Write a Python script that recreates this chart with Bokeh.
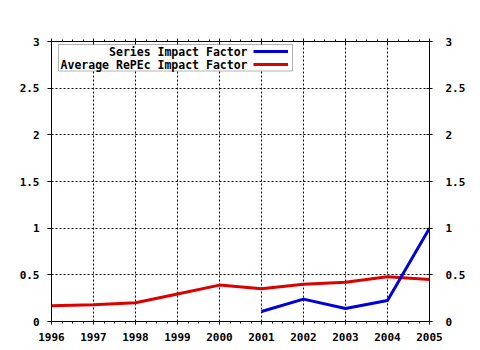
from bokeh.plotting import figure
from bokeh.models import (LinearAxis, FixedTicker, Range1d, BoxAnnotation, Label,
                          CustomLabelingPolicy)
from bokeh.embed import file_html
from bokeh.resources import INLINE

# ---- data ----
years = [1996, 1997, 1998, 1999, 2000, 2001, 2002, 2003, 2004, 2005]
average_repec_if = [0.17, 0.18, 0.20, 0.295, 0.39, 0.35, 0.40, 0.42, 0.48, 0.45]
series_years = [2001, 2002, 2003, 2004, 2005]
series_if = [0.107, 0.24, 0.14, 0.225, 1.0]
y_ticks = [0, 0.5, 1, 1.5, 2, 2.5, 3]
y_tick_labels = ["0", "0.5", "1", "1.5", "2", "2.5", "3"]
x_tick_labels = [str(y) for y in years]
series_names = ["Series Impact Factor", "Average RePEc Impact Factor"]
series_colors = ["#0000dd", "#dd0000"]

# ---- layout ----
W, H = 480, 350
BL, BR, BT, BB = 51, 51, 41, 29
FW, FH = W - BL - BR, H - BT - BB
X0, X1 = years[0], years[-1]
Y0, Y1 = 0, 3

def px2x(px):
    return X0 + (px - BL) / FW * (X1 - X0)

def py2y(py):
    return Y0 + (BT + FH - py) / FH * (Y1 - Y0)

FONT = "DejaVu Sans Mono"

p = figure(width=W, height=H, output_backend="svg", toolbar_location=None,
           x_range=Range1d(X0, X1), y_range=Range1d(Y0, Y1),
           x_axis_location=None, y_axis_location=None,
           min_border_left=BL, min_border_right=BR,
           min_border_top=BT, min_border_bottom=BB)
p.background_fill_color = "white"
p.border_fill_color = "white"
p.outline_line_color = "black"
p.outline_line_width = 1

xt = FixedTicker(ticks=years, minor_ticks=[years[0] + i * 0.25 for i in range(4 * (len(years) - 1) + 1)])
yt = FixedTicker(ticks=y_ticks)
x_over = {y: l for y, l in zip(years, x_tick_labels)}
y_over = {v: l for v, l in zip(y_ticks, y_tick_labels)}

def style(ax):
    ax.axis_line_color = "black"
    ax.axis_line_width = 1
    ax.major_tick_line_color = "black"
    ax.minor_tick_line_color = "black"
    ax.major_label_text_font = FONT
    ax.major_label_text_font_style = "bold"
    ax.major_label_text_font_size = "11px"
    ax.major_label_text_color = "black"

bottom = LinearAxis(ticker=xt, major_label_overrides=x_over)
style(bottom)
bottom.major_tick_in = 0
bottom.major_tick_out = 3
bottom.minor_tick_in = 0
bottom.minor_tick_out = 2
bottom.major_label_standoff = 8
p.add_layout(bottom, "below")

# top border: ticks only, no labels drawn
top = LinearAxis(ticker=xt, major_label_overrides=x_over,
                 major_label_policy=CustomLabelingPolicy(code="return new Set()"))
style(top)
top.major_tick_in = 3
top.major_tick_out = 3
top.minor_tick_in = 0
top.minor_tick_out = 2
top.major_label_standoff = 0
p.add_layout(top, "above")

left = LinearAxis(ticker=yt, major_label_overrides=y_over)
style(left)
left.major_tick_in = 0
left.major_tick_out = 4
left.minor_tick_line_color = None
left.major_label_standoff = 8
p.add_layout(left, "left")

right = LinearAxis(ticker=yt, major_label_overrides=y_over)
style(right)
right.major_tick_in = 3
right.major_tick_out = 3
right.minor_tick_line_color = None
right.major_label_standoff = 13
p.add_layout(right, "right")

p.xgrid.ticker = xt
p.ygrid.ticker = yt
for g in (p.xgrid, p.ygrid):
    g.grid_line_color = "black"
    g.grid_line_dash = "2 2"
    g.grid_line_width = 1
    g.minor_grid_line_color = None

p.line(years, average_repec_if, line_color=series_colors[1], line_width=3, line_join="round")
p.line(series_years, series_if, line_color=series_colors[0], line_width=3, line_join="round")

# ---- legend (hand-built to mimic right-aligned labels) ----
p.add_layout(BoxAnnotation(left=px2x(58), right=px2x(292), top=py2y(44), bottom=py2y(70.5),
                           fill_color="white", fill_alpha=1.0,
                           line_color="black", line_width=1))
rows_py = [51, 64]
for name, col, ry in zip(series_names, series_colors, rows_py):
    p.add_layout(Label(x=px2x(247), y=py2y(ry), text=name, text_align="right",
                       text_baseline="middle", text_font=FONT, text_font_style="bold",
                       text_font_size="11.5px", text_color="black"))
    p.add_layout(BoxAnnotation(left=px2x(253), right=px2x(287.5),
                               top=py2y(ry - 1.5), bottom=py2y(ry + 1.5),
                               fill_color=col, fill_alpha=1.0, line_color=None))

open("out.html", "w").write(file_html(p, INLINE))
